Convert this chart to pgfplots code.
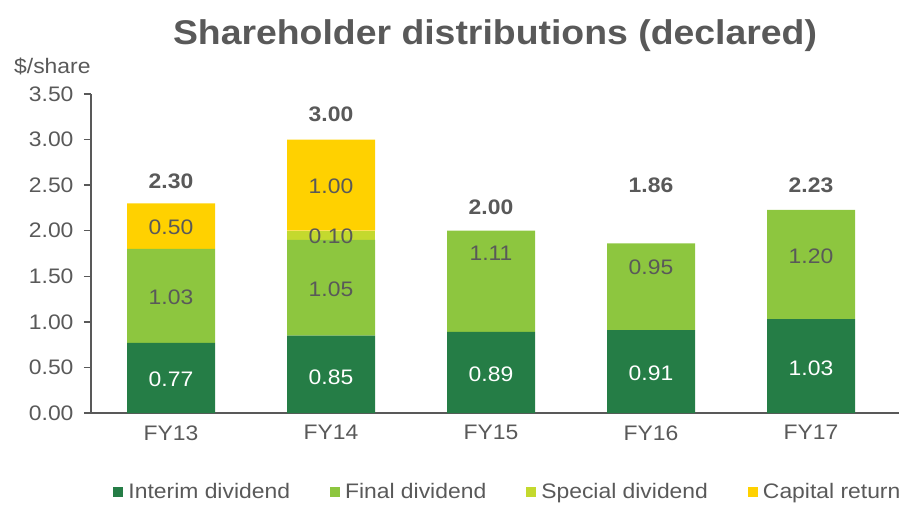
\documentclass[border=0pt]{standalone}
\usepackage{pgfplots}
\pgfplotsset{compat=1.18}
\usepackage{fontspec}
\setmainfont[FakeStretch=1.09]{Liberation Sans}
\definecolor{cInterim}{HTML}{257D46}
\definecolor{cFinal}{HTML}{8DC63F}
\definecolor{cSpecial}{HTML}{C4D92E}
\definecolor{cCapital}{HTML}{FFD100}
\definecolor{txt}{HTML}{595959}
\begin{document}
\begin{tikzpicture}[font=\fontsize{21}{25}\selectfont]
\path[use as bounding box] (0,0) rectangle (903pt,504pt);
\node[font=\fontsize{34.3}{40}\selectfont\bfseries, text=txt] at (495pt,468pt) {Shareholder distributions (declared)};
\node[anchor=west, text=txt, inner sep=0pt] at (14pt,438pt) {\$/share};
\begin{axis}[
  at={(91pt,91pt)}, anchor=south west,
  scale only axis, width=808pt, height=319pt,
  ybar stacked, bar width=88pt,
  xmin=-0.5, xmax=4.55, ymin=0, ymax=3.5,
  xtick={0,1,2,3,4}, xticklabels={FY13,FY14,FY15,FY16,FY17},
  ytick={0,0.5,1,1.5,2,2.5,3,3.5},
  yticklabel style={xshift=-7pt, /pgf/number format/.cd, fixed, fixed zerofill, precision=2},
  /pgf/number format/assume math mode=true,
  tick label style={text=txt},
  axis x line*=bottom, axis y line*=left,
  axis line style={txt, line width=2.2pt, -},
  x axis line style={line width=1.6pt},
  xtick style={draw=none},
  ytick style={txt, line width=1.4pt},
  tick align=outside, major tick length=7pt,
  xticklabel style={yshift=-2pt},
  legend columns=4,
  legend style={draw=none, fill=none, at={(0.516,-0.248)}, anchor=center, text=txt,
    /tikz/every even column/.append style={column sep=38pt},
    /tikz/every odd column/.append style={column sep=3pt}},
  legend image code/.code={\fill[#1] (0pt,-5pt) rectangle (10pt,5pt);},
]
\addplot[fill=cInterim, draw=none] coordinates {(0,0.77) (1,0.85) (2,0.89) (3,0.91) (4,1.03)};
\addplot[fill=cFinal, draw=none] coordinates {(0,1.03) (1,1.05) (2,1.11) (3,0.95) (4,1.20)};
\addplot[fill=cSpecial, draw=none] coordinates {(0,0) (1,0.10) (2,0) (3,0) (4,0)};
\addplot[fill=cCapital, draw=none] coordinates {(0,0.50) (1,1.00) (2,0) (3,0) (4,0)};
\legend{Interim dividend, Final dividend, Special dividend, Capital return}
\end{axis}
\begin{axis}[
  at={(91pt,91pt)}, anchor=south west,
  scale only axis, width=808pt, height=319pt,
  xmin=-0.5, xmax=4.55, ymin=0, ymax=3.5,
  hide axis, clip=false,
  nodes near coords, nodes near coords align=center,
  point meta=explicit symbolic,
]
\addplot[draw=none, mark=none, every node near coord/.append style={text=white}] table[meta=label] {
x y label
0 0.373 0.77
1 0.395 0.85
2 0.43 0.89
3 0.44 0.91
4 0.49 1.03
};
\addplot[draw=none, mark=none, every node near coord/.append style={text=txt}] table[meta=label] {
x y label
0 1.27 1.03
0 2.04 0.50
1 1.36 1.05
1 1.94 0.10
1 2.49 1.00
2 1.756 1.11
3 1.60 0.95
4 1.72 1.20
};
\addplot[draw=none, mark=none, every node near coord/.append style={text=txt, font=\fontsize{21}{25}\selectfont\bfseries}] table[meta=label] {
x y label
0 2.54 2.30
1 3.28 3.00
2 2.26 2.00
3 2.50 1.86
4 2.50 2.23
};
\end{axis}
\end{tikzpicture}
\end{document}
